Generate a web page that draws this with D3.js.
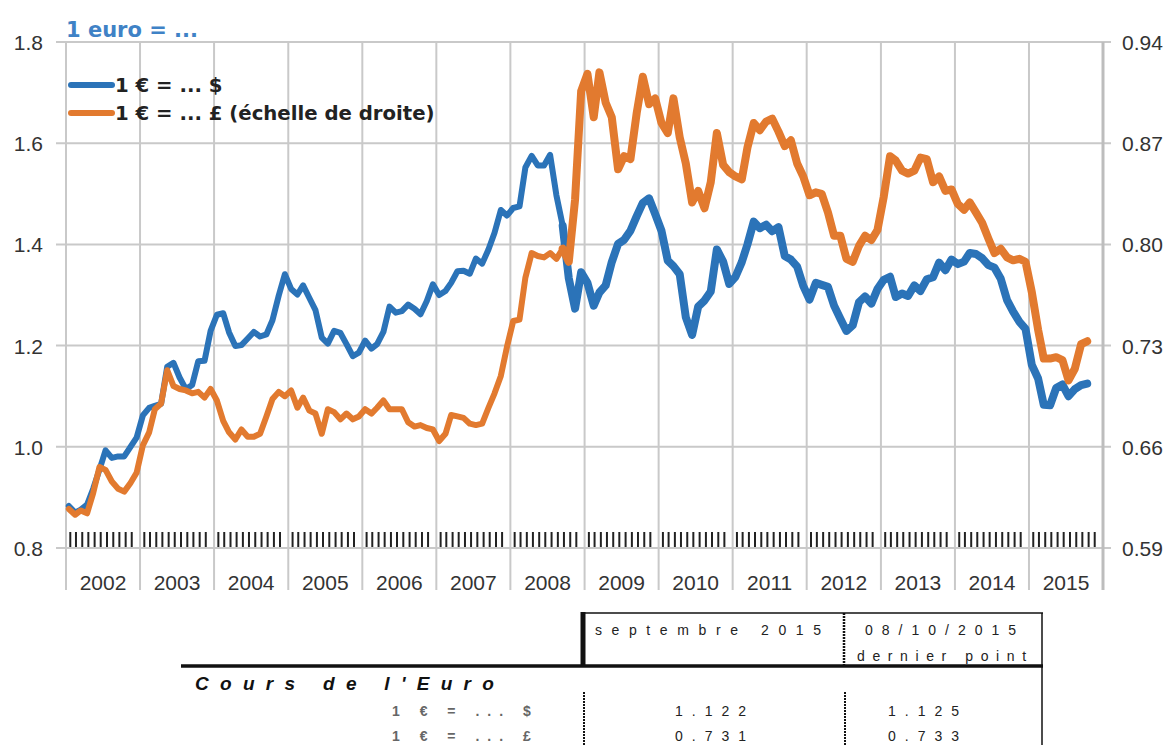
<!DOCTYPE html>
<html>
<head>
<meta charset="utf-8">
<script src="https://cdn.jsdelivr.net/npm/d3@7"></script>
<style>
  body { margin: 0; background: #fff; }
  svg { display: block; }
</style>
</head>
<body>
<svg id="chart"></svg>
<script>
const width = 1173;
const height = 745;

// monthly values, Jan 2002 -> Oct 2015
const usd = [
  0.883,0.870,0.876,0.886,0.917,0.955,0.993,0.978,0.981,0.981,1.000,1.018,
  1.062,1.077,1.081,1.085,1.158,1.166,1.137,1.114,1.122,1.169,1.170,1.229,
  1.261,1.264,1.226,1.199,1.201,1.214,1.227,1.218,1.222,1.250,1.299,1.341,
  1.312,1.301,1.319,1.294,1.270,1.216,1.204,1.229,1.225,1.203,1.179,1.186,
  1.210,1.194,1.203,1.227,1.277,1.265,1.268,1.281,1.273,1.262,1.288,1.321,
  1.300,1.308,1.324,1.347,1.348,1.342,1.372,1.362,1.390,1.423,1.468,1.457,
  1.472,1.475,1.552,1.575,1.556,1.556,1.577,1.497,1.437,1.333,1.273,1.345,
  1.324,1.279,1.305,1.319,1.365,1.401,1.409,1.427,1.456,1.482,1.491,1.460,
  1.427,1.368,1.357,1.341,1.256,1.221,1.277,1.289,1.307,1.390,1.366,1.322,
  1.336,1.365,1.400,1.445,1.432,1.439,1.426,1.434,1.377,1.370,1.356,1.318,
  1.291,1.324,1.320,1.316,1.279,1.253,1.229,1.240,1.286,1.297,1.283,1.312,
  1.330,1.336,1.296,1.303,1.298,1.319,1.308,1.331,1.335,1.364,1.349,1.370,
  1.361,1.366,1.383,1.381,1.373,1.359,1.354,1.332,1.290,1.267,1.247,1.233,
  1.162,1.135,1.083,1.082,1.116,1.123,1.100,1.114,1.122,1.125
];
const gbp = [
  0.617,0.613,0.616,0.614,0.628,0.646,0.644,0.636,0.631,0.629,0.635,0.642,
  0.661,0.670,0.686,0.690,0.713,0.702,0.700,0.699,0.697,0.698,0.694,0.700,
  0.692,0.678,0.670,0.665,0.672,0.667,0.667,0.669,0.681,0.693,0.698,0.695,
  0.699,0.687,0.694,0.685,0.683,0.669,0.686,0.684,0.679,0.683,0.679,0.681,
  0.686,0.683,0.687,0.692,0.686,0.686,0.686,0.677,0.674,0.675,0.673,0.672,
  0.664,0.669,0.682,0.681,0.680,0.676,0.675,0.676,0.687,0.697,0.709,0.729,
  0.747,0.748,0.777,0.794,0.792,0.791,0.794,0.790,0.797,0.788,0.831,0.906,
  0.918,0.888,0.919,0.898,0.888,0.852,0.861,0.859,0.891,0.916,0.897,0.901,
  0.884,0.877,0.901,0.874,0.856,0.829,0.837,0.825,0.843,0.877,0.855,0.850,
  0.847,0.845,0.867,0.884,0.879,0.885,0.887,0.878,0.868,0.872,0.856,0.847,
  0.834,0.836,0.835,0.822,0.806,0.806,0.790,0.788,0.799,0.806,0.803,0.810,
  0.833,0.861,0.858,0.851,0.849,0.851,0.860,0.859,0.843,0.847,0.837,0.838,
  0.828,0.824,0.829,0.822,0.815,0.804,0.794,0.797,0.791,0.789,0.790,0.788,
  0.767,0.741,0.721,0.721,0.722,0.720,0.706,0.714,0.731,0.733
];
const years = d3.range(2002, 2016);
const leftTicks = [0.8, 1.0, 1.2, 1.4, 1.6, 1.8];
const rightTicks = [0.59, 0.66, 0.73, 0.80, 0.87, 0.94];

const title = "1 euro = ...";
const legendLabels = ["1 € = ... $", "1 € = ... £ (échelle de droite)"];

const tableTitle = "Cours de l'Euro";
const colHeaders = ["septembre 2015", "08/10/2015"];
const colSub = "dernier point";
const rowLabels = ["1 € = ... $", "1 € = ... £"];
const septValues = ["1.122", "0.731"];
const lastValues = ["1.125", "0.733"];

const blue = "#2b73b8";
const orange = "#e27a2f";
const grid = "#c9c9c9";
const volatileFrom = 80; // from Sep 2008 the daily series gets noisy -> wider band

const svg = d3.select("#chart").attr("width", width).attr("height", height);

const x = d3.scaleTime()
    .domain([new Date(2002, 0, 1), new Date(2016, 0, 1)])
    .range([66, 1103]);
const yL = d3.scaleLinear().domain([0.8, 1.8]).range([548, 42]);
const yR = d3.scaleLinear().domain([0.59, 0.94]).range([548, 42]);

const monthDate = i => new Date(2002, i, 15);

// horizontal grid
svg.append("g").selectAll("line").data(leftTicks).enter().append("line")
    .attr("x1", 56).attr("x2", 1111)
    .attr("y1", d => yL(d)).attr("y2", d => yL(d))
    .attr("stroke", grid).attr("stroke-width", 2);

// vertical year lines
svg.append("g").selectAll("line").data(years.concat([2016])).enter().append("line")
    .attr("x1", d => x(new Date(d, 0, 1))).attr("x2", d => x(new Date(d, 0, 1)))
    .attr("y1", 42).attr("y2", 590)
    .attr("stroke", d => d === 2016 ? "#bdbdbd" : grid)
    .attr("stroke-width", d => d === 2016 ? 3 : 2);

// month ticks
const monthTicks = [];
years.forEach(yr => d3.range(1, 12).forEach(m => monthTicks.push(new Date(yr, m, 1))));
svg.append("g").selectAll("line").data(monthTicks).enter().append("line")
    .attr("x1", d => x(d) - 2).attr("x2", d => x(d) - 2)
    .attr("y1", 532).attr("y2", 547)
    .attr("stroke", "#222").attr("stroke-width", 2);

// axis labels
const axisFont = "'Liberation Sans', Arial, sans-serif";
svg.append("g").selectAll("text").data(leftTicks).enter().append("text")
    .attr("x", 43).attr("y", d => yL(d) + 8)
    .attr("text-anchor", "end")
    .style("font-family", axisFont).style("font-size", "21px").attr("fill", "#333")
    .text(d => d3.format(".1f")(d));

svg.append("g").selectAll("text").data(rightTicks).enter().append("text")
    .attr("x", 1122).attr("y", d => yR(d) + 8)
    .style("font-family", axisFont).style("font-size", "21px").attr("fill", "#333")
    .text(d => d3.format(".2f")(d));

svg.append("g").selectAll("text").data(years).enter().append("text")
    .attr("x", d => (x(new Date(d, 0, 1)) + x(new Date(d + 1, 0, 1))) / 2)
    .attr("y", 590)
    .attr("text-anchor", "middle")
    .style("font-family", axisFont).style("font-size", "21px").attr("fill", "#333")
    .text(d => d);

// series
const series = [
    { values: usd, y: yL, color: blue },
    { values: gbp, y: yR, color: orange }
];

series.forEach(s => {
    const line = d3.line().x(d => x(monthDate(d.i))).y(d => s.y(d.v));
    const pts = s.values.map((v, i) => ({ v: v, i: i }));
    svg.append("path").datum(pts.slice(0, volatileFrom + 1)).attr("d", line)
        .attr("fill", "none").attr("stroke", s.color).attr("stroke-width", 6)
        .attr("stroke-linejoin", "round").attr("stroke-linecap", "round");
    svg.append("path").datum(pts.slice(volatileFrom)).attr("d", line)
        .attr("fill", "none").attr("stroke", s.color).attr("stroke-width", 8)
        .attr("stroke-linejoin", "round").attr("stroke-linecap", "round");
});

// title + legend
const legendFont = "'DejaVu Sans', sans-serif";
svg.append("text").attr("x", 66).attr("y", 37)
    .style("font-family", legendFont).style("font-size", "21px").style("font-weight", "bold")
    .attr("fill", "#3f82c6").text(title);

const legend = svg.append("g");
legend.selectAll("line").data([blue, orange]).enter().append("line")
    .attr("x1", 71).attr("x2", 112)
    .attr("y1", (d, i) => 85 + i * 28).attr("y2", (d, i) => 85 + i * 28)
    .attr("stroke", d => d).attr("stroke-width", 6).attr("stroke-linecap", "round");
legend.selectAll("text").data(legendLabels).enter().append("text")
    .attr("x", 115).attr("y", (d, i) => 92 + i * 28)
    .style("font-family", legendFont).style("font-size", "19.7px").style("font-weight", "bold")
    .attr("fill", "#222").text(d => d);

// table
const tbl = svg.append("g");
const tFont = "'Liberation Sans', Arial, sans-serif";
tbl.append("line").attr("x1", 582).attr("x2", 1043).attr("y1", 613).attr("y2", 613)
    .attr("stroke", "#111").attr("stroke-width", 1.5);
tbl.append("line").attr("x1", 583).attr("x2", 583).attr("y1", 612).attr("y2", 667)
    .attr("stroke", "#111").attr("stroke-width", 5);
tbl.append("line").attr("x1", 181).attr("x2", 1043).attr("y1", 666).attr("y2", 666)
    .attr("stroke", "#111").attr("stroke-width", 3.5);
tbl.append("line").attr("x1", 1042).attr("x2", 1042).attr("y1", 613).attr("y2", 745)
    .attr("stroke", "#111").attr("stroke-width", 1.5);
tbl.append("line").attr("x1", 844).attr("x2", 844).attr("y1", 613).attr("y2", 665)
    .attr("stroke", "#111").attr("stroke-width", 2.5).attr("stroke-dasharray", "2,1");
[584, 845].forEach(xx => {
    tbl.append("line").attr("x1", xx).attr("x2", xx).attr("y1", 692).attr("y2", 745)
        .attr("stroke", "#111").attr("stroke-width", 2).attr("stroke-dasharray", "2,1");
});

tbl.append("text").attr("x", 595).attr("y", 635)
    .style("font-family", tFont).style("font-size", "14px").style("letter-spacing", "9.6px")
    .attr("fill", "#222").text(colHeaders[0]);
tbl.append("text").attr("x", 865).attr("y", 635)
    .style("font-family", tFont).style("font-size", "14px").style("letter-spacing", "9px")
    .attr("fill", "#222").text(colHeaders[1]);
tbl.append("text").attr("x", 857).attr("y", 661)
    .style("font-family", tFont).style("font-size", "14px").style("letter-spacing", "7.6px")
    .attr("fill", "#222").text(colSub);

tbl.append("text").attr("x", 195).attr("y", 690)
    .style("font-family", tFont).style("font-size", "19px").style("font-weight", "bold")
    .style("font-style", "italic").style("letter-spacing", "11.3px")
    .attr("fill", "#111").text(tableTitle);

tbl.selectAll("text.row").data(rowLabels).enter().append("text").attr("class", "row")
    .attr("x", 392).attr("y", (d, i) => 716 + i * 25)
    .style("font-family", tFont).style("font-size", "14px").style("font-weight", "bold")
    .style("letter-spacing", "8px").attr("fill", "#666").text(d => d);
tbl.selectAll("text.sept").data(septValues).enter().append("text").attr("class", "sept")
    .attr("x", 675).attr("y", (d, i) => 716 + i * 25)
    .style("font-family", tFont).style("font-size", "14px")
    .style("letter-spacing", "9px").attr("fill", "#222").text(d => d);
tbl.selectAll("text.last").data(lastValues).enter().append("text").attr("class", "last")
    .attr("x", 888).attr("y", (d, i) => 716 + i * 25)
    .style("font-family", tFont).style("font-size", "14px")
    .style("letter-spacing", "9px").attr("fill", "#222").text(d => d);
</script>
</body>
</html>
